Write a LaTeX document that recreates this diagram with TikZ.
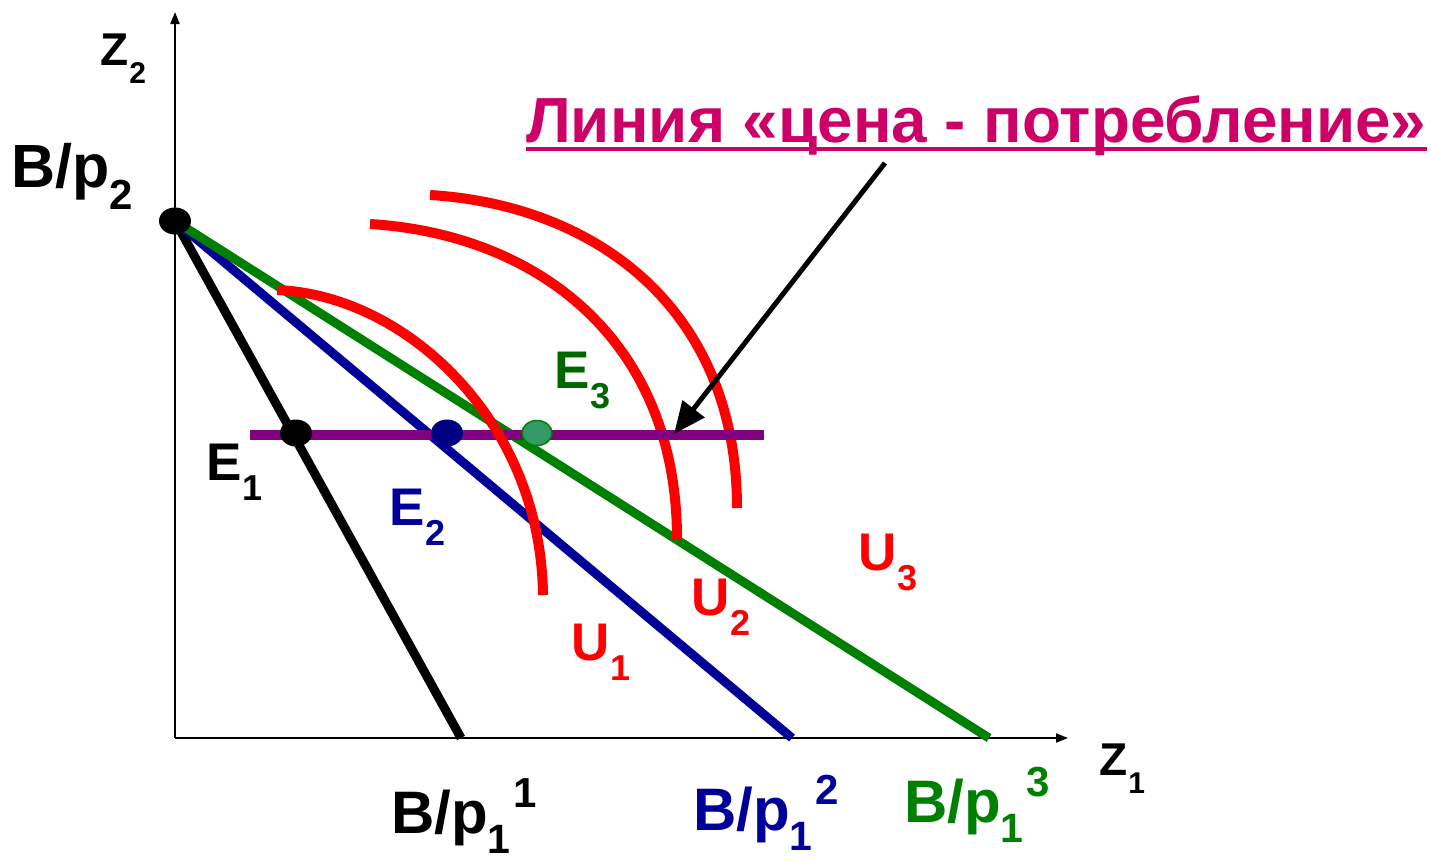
\documentclass[tikz,border=0pt]{standalone}
\usepackage{fontspec}
\setmainfont{Liberation Sans}
\usetikzlibrary{arrows.meta,shapes.geometric}
\definecolor{cblue}{HTML}{000099}
\definecolor{cnavy}{HTML}{000080}
\definecolor{cgreen}{HTML}{008000}
\definecolor{cdgreen}{HTML}{006600}
\definecolor{cdot}{HTML}{339966}
\definecolor{cred}{HTML}{FF0000}
\definecolor{cpurple}{HTML}{800080}
\definecolor{ctitle}{HTML}{CC0066}
\newcommand\EU[2]{\fontsize{53}{53}\selectfont #1\kern1pt\raisebox{-20pt}{\fontsize{36}{36}\selectfont #2}}
\newcommand\ZZ[1]{\fontsize{46}{46}\selectfont Z\kern1pt\raisebox{-18pt}{\fontsize{30}{30}\selectfont #1}}
\newcommand\BPone[1]{\fontsize{60}{60}\selectfont B/p\raisebox{-20pt}{\fontsize{41}{41}\selectfont 1}\kern3pt\raisebox{26pt}{\fontsize{42}{42}\selectfont #1}}
\tikzset{
  lbl/.style={anchor=base west, inner sep=0pt, font=\bfseries},
  axis/.style={line width=2pt, -{Triangle[length=12pt,width=9pt]}},
  bud/.style={line width=9pt},
  ucurve/.style={cred, line width=10pt},
  dotnode/.style={ellipse, inner sep=0pt, minimum width=32pt, minimum height=27pt},
}
\begin{document}
\begin{tikzpicture}[x=1pt,y=-1pt]
\useasboundingbox (0,0) rectangle (1431,860);
% coordinates
\coordinate (O) at (175,738);
\coordinate (Ytop) at (175,12);
\coordinate (Xend) at (1068,738);
\coordinate (A) at (175,221);
\coordinate (X1) at (461,738);
\coordinate (X2) at (792,738);
\coordinate (X3) at (989,738);
\coordinate (PL) at (250,435);
\coordinate (PR) at (764,435);
\coordinate (ArS) at (885,163);
\coordinate (ArT) at (674,434);
% axes
\draw[axis] (O) -- (Ytop);
\draw[axis] (O) -- (Xend);
% budget lines
\draw[bud, black] (A) -- (X1);
\draw[bud, cblue] (A) -- (X2);
\draw[bud, cgreen] (A) -- (X3);
% indifference curves
\draw[ucurve] (370,224) .. controls (535,234) and (677,338) .. (677,539);
\draw[ucurve] (430,195) .. controls (595,205) and (737,308) .. (737,508);
% price-consumption line
\draw[cpurple, line width=10pt] (PL) -- (PR);
\draw[ucurve] (277,290) .. controls (405,295) and (541,420) .. (543,595);
% pointer arrow
\draw[line width=5pt, -{Triangle[length=32pt,width=27pt]}] (ArS) -- (ArT);
% dots
\node[dotnode, fill=black] (dA) at (A) {};
\node[dotnode, fill=black] (dE1) at (296,433) {};
\node[dotnode, fill=cnavy] (dE2) at (447,433) {};
\node[dotnode, fill=cdot, draw=cgreen, line width=1.5pt, minimum width=30pt, minimum height=25pt] (dE3) at (537,433) {};
% labels
\node[lbl] (z2) at (100,65) {\ZZ{2}};
\node[lbl] (z1) at (1099,775) {\ZZ{1}};
\node[lbl] (bp2) at (11,187) {\fontsize{61}{61}\selectfont B/p\raisebox{-22pt}{\fontsize{42}{42}\selectfont 2}};
\node[lbl] (e1) at (206,480) {\EU{E}{1}};
\node[lbl, text=cblue] (e2) at (389,525) {\EU{E}{2}};
\node[lbl, text=cdgreen] (e3) at (554,388) {\EU{E}{3}};
\node[lbl, text=cred] (u1) at (571,660) {\EU{U}{1}};
\node[lbl, text=cred] (u2) at (691,615) {\EU{U}{2}};
\node[lbl, text=cred] (u3) at (858,570) {\EU{U}{3}};
\node[lbl] (b1) at (391,833) {\BPone{1}};
\node[lbl, text=cblue] (b2) at (693,830) {\BPone{2}};
\node[lbl, text=cgreen] (b3) at (904,822) {\BPone{3}};
\node[lbl, text=ctitle] (title) at (526,142) {\fontsize{63.8}{63.8}\selectfont Линия «цена - потребление»};
\draw[ctitle, line width=4.5pt] ([yshift=-7pt]title.base west) -- ([yshift=-7pt]title.base east);
\end{tikzpicture}
\end{document}
